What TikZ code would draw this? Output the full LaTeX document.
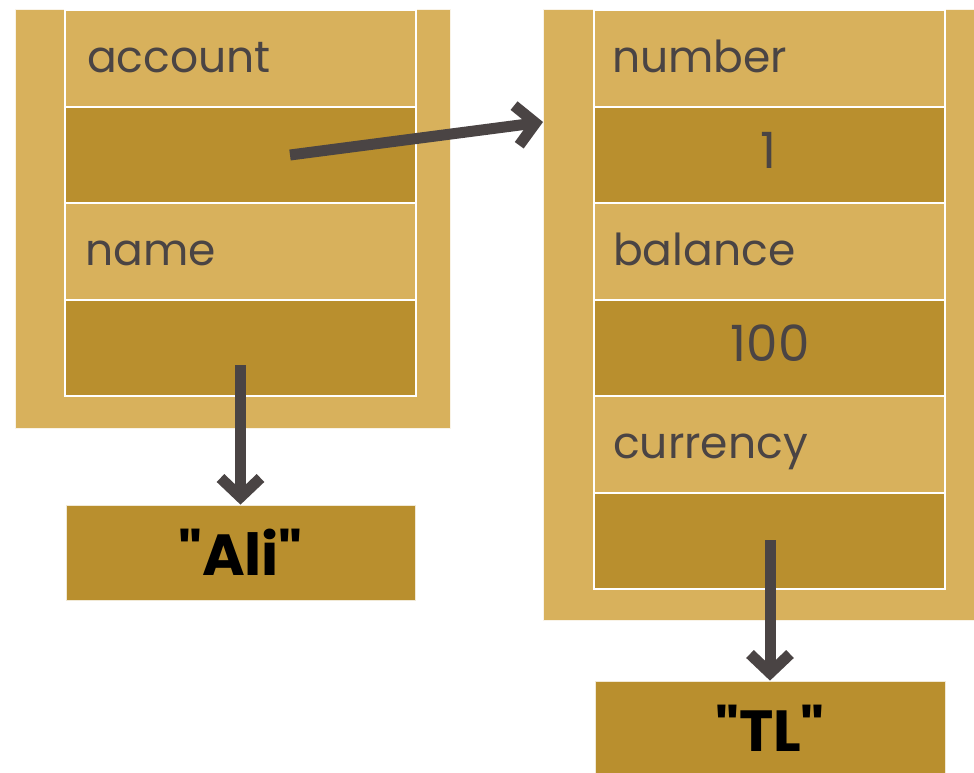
\documentclass[tikz,border=0pt]{standalone}
\usepackage{fontspec}
\setmainfont{Poppins}[Ligatures=TeXOff]
\usetikzlibrary{arrows.meta}
\definecolor{boxlight}{HTML}{D8B15C}
\definecolor{boxdark}{HTML}{B98F2E}
\definecolor{inkgray}{HTML}{4A4444}
\begin{document}
\begin{tikzpicture}[x=1pt,y=-1pt,
    outer/.style={fill=boxlight,draw=white!85!boxlight,line width=.8pt,inner sep=0},
    namecell/.style={fill=boxlight,draw=white,line width=2pt,inner sep=0,
      minimum width=351pt,minimum height=96.5pt},
    valcell/.style={namecell,fill=boxdark},
    strbox/.style={fill=boxdark,draw=white!80!boxdark,line width=.8pt,inner sep=0,
      font=\fontsize{58}{66}\selectfont\bfseries},
    fieldtxt/.style={anchor=base west,text=inkgray,inner sep=0,
      font=\fontsize{44}{52}\selectfont},
    valtxt/.style={fieldtxt,anchor=base,font=\fontsize{50}{58}\selectfont},
    ptr/.style={draw=inkgray,line width=11pt,-{Straight Barb[length=19pt,width=40pt]}}]
  \clip (0,0) rectangle (974,772);
  \fill[white] (0,0) rectangle (974,772);
  % person object
  \node[outer,minimum width=435pt,minimum height=419pt] (per) at (232.5,218.5) {};
  \node[namecell] (paccount) at (240.5,58.25) {};
  \node[valcell]  (paccval)  at (240.5,154.75) {};
  \node[namecell] (pname)    at (240.5,251.25) {};
  \node[valcell]  (pnameval) at (240.5,347.75) {};
  \node[fieldtxt] at (87,72) {account};
  \node[fieldtxt] at (85,265) {name};
  % account object
  \node[outer,minimum width=452pt,minimum height=611pt] (acc) at (769,314.5) {};
  \node[namecell] (anumber)  at (769.5,58.25) {};
  \node[valcell]  (anumval)  at (769.5,154.75) {};
  \node[namecell] (abalance) at (769.5,251.25) {};
  \node[valcell]  (abalval)  at (769.5,347.75) {};
  \node[namecell] (acurr)    at (769.5,444.25) {};
  \node[valcell]  (acurrval) at (769.5,540.75) {};
  \node[fieldtxt] at (612,72) {number};
  \node[valtxt] at (768,168) {1};
  \node[fieldtxt] at (613,265) {balance};
  \node[valtxt] at (770,361) {100};
  \node[fieldtxt] at (613,458) {currency};
  % strings
  \node[strbox,minimum width=349pt,minimum height=95pt] (ali) at (240.5,552.5) {"Ali"};
  \node[strbox,minimum width=350pt,minimum height=95pt] (tl) at (770,728.5) {"TL"};
  % references
  \coordinate (accref) at (290,155);
  \coordinate (accin) at (543,122);
  \coordinate (nameref) at (240.5,365);
  \coordinate (currref) at (770,540);
  \draw[ptr] (accref) -- (accin);
  \draw[ptr] (nameref) -- (ali.north);
  \draw[ptr] (currref) -- (tl.north);
\end{tikzpicture}
\end{document}
